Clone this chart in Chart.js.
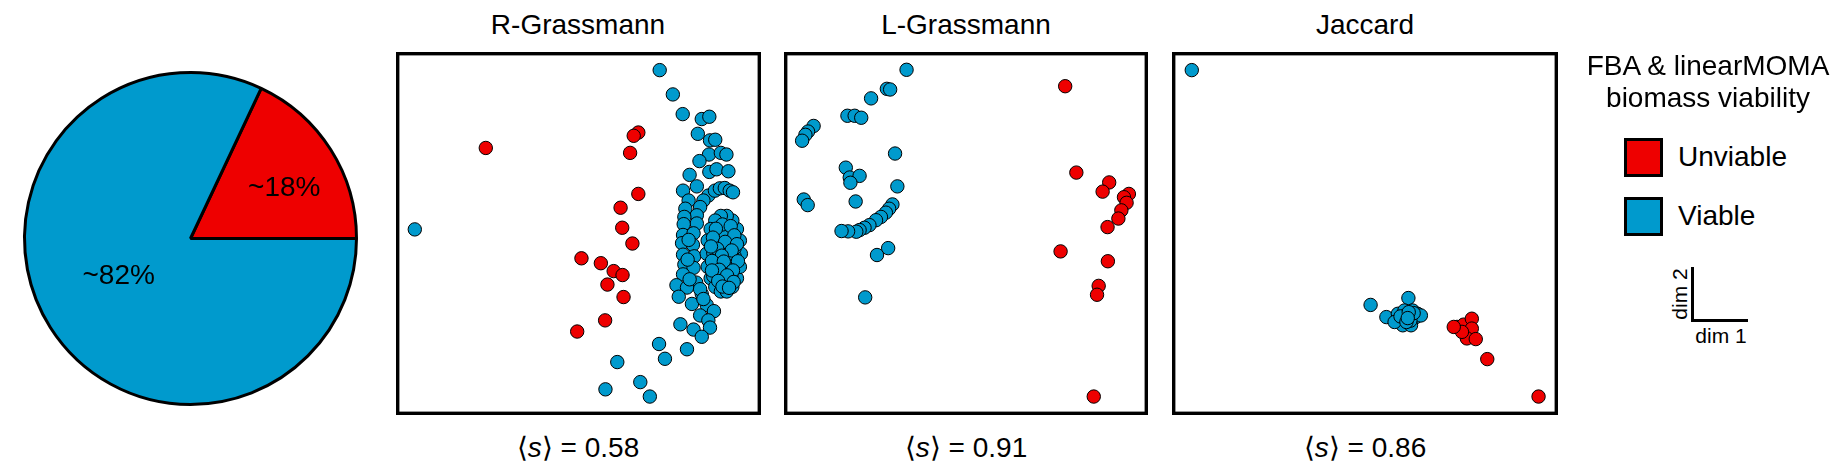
<!DOCTYPE html>
<html>
<head>
<meta charset="utf-8">
<script src="https://cdn.jsdelivr.net/npm/chart.js@4.4.1/dist/chart.umd.min.js"></script>
<style>
body { margin: 0; background: #fff; }
#wrap { position: relative; width: 1841px; height: 469px; font-family: "Liberation Sans", Arial, sans-serif; color: #000; overflow: hidden; }
canvas { position: absolute; }
.t { position: absolute; white-space: nowrap; font-size: 28px; line-height: 34px; height: 34px; }
.c { width: 300px; text-align: center; }
.sq { position: absolute; width: 39px; height: 39px; box-sizing: border-box; border: 3px solid #000; }
.ln { position: absolute; background: #000; }
.dim { position: absolute; white-space: nowrap; font-size: 21px; line-height: 24px; height: 24px; width: 80px; text-align: center; }
</style>
</head>
<body>
<div id="wrap">
  <canvas id="pie" width="343" height="343" style="left:19px;top:67px"></canvas>
  <canvas id="rg" width="377" height="375" style="left:390px;top:46px"></canvas>
  <canvas id="lg" width="376" height="375" style="left:778px;top:46px"></canvas>
  <canvas id="jc" width="398" height="375" style="left:1166px;top:46px"></canvas>

  <div class="t c" style="left:428px;top:8px">R-Grassmann</div>
  <div class="t c" style="left:816px;top:8px">L-Grassmann</div>
  <div class="t c" style="left:1215px;top:8px">Jaccard</div>

  <div class="t c" style="left:428px;top:431px">⟨<i>s</i>⟩ = 0.58</div>
  <div class="t c" style="left:816px;top:431px">⟨<i>s</i>⟩ = 0.91</div>
  <div class="t c" style="left:1215px;top:431px">⟨<i>s</i>⟩ = 0.86</div>

  <div class="t c" style="left:1558px;top:49px">FBA &amp; linearMOMA</div>
  <div class="t c" style="left:1558px;top:81px">biomass viability</div>
  <div class="sq" style="left:1624px;top:138px;background:#EE0000"></div>
  <div class="t" style="left:1678px;top:140px">Unviable</div>
  <div class="sq" style="left:1624px;top:197px;background:#009ACD"></div>
  <div class="t" style="left:1678px;top:199px">Viable</div>

  <div class="ln" style="left:1691px;top:267px;width:3px;height:55px"></div>
  <div class="ln" style="left:1691px;top:319px;width:57px;height:3px"></div>
  <div class="dim" style="left:1681px;top:324px">dim 1</div>
  <div class="dim" style="left:1640px;top:282px;transform:rotate(-90deg)">dim 2</div>
</div>
<script>
var red = "#EE0000"
var blue = "#009ACD"

// pie
var pieLabels = ["Unviable", "Viable"]
var pieValues = [18, 82]
var pieColors = [red, blue]
var pieLabelDist = [0.64, 0.49]

// R-Grassmann embedding
var rgUnviable = [[26.8, 80.8], [73.2, 85.5], [71.8, 84.5], [70.7, 79.3], [73.2, 66.8], [67.8, 62.6], [68.3, 56.5], [71.4, 51.7],
  [55.9, 47.2], [61.8, 45.7], [65.7, 43.3], [68.4, 42.1], [63.8, 39.2], [68.7, 35.4], [63.1, 28.3], [54.6, 24.9]]
var rgViable = [[5.2, 56.0], [79.7, 104.5], [83.7, 97.1], [86.7, 91.1], [92.5, 89.6], [94.8, 90.3], [91.3, 85.1], [95.0, 83.1],
  [96.6, 83.3], [94.7, 78.8], [98.3, 79.3], [100.0, 78.8], [91.8, 76.8], [94.8, 73.5], [97.0, 74.3], [100.6, 73.7],
  [88.8, 72.6], [91.0, 69.1], [86.8, 67.8], [94.5, 66.3], [96.5, 67.8], [98.0, 68.5], [99.5, 68.6], [101.0, 67.8],
  [102.0, 67.3], [93.0, 64.8], [88.5, 64.8], [92.0, 62.8], [87.5, 62.3], [91.0, 60.3], [87.2, 59.8], [91.0, 57.8],
  [87.0, 57.6], [86.8, 54.3], [90.0, 54.8], [86.5, 51.8], [89.8, 51.3], [86.8, 48.3], [90.2, 47.8], [87.2, 45.3],
  [90.0, 44.3], [86.8, 42.3], [90.8, 39.8], [84.8, 39.0], [88.0, 38.3], [85.5, 35.5], [92.5, 36.3], [89.5, 33.3],
  [94.0, 33.0], [96.2, 31.1], [92.0, 29.8], [94.5, 28.3], [86.0, 27.1], [90.0, 25.5], [95.0, 26.1], [92.5, 23.3],
  [79.5, 21.1], [88.0, 19.5], [81.3, 16.6], [66.8, 15.6], [73.8, 9.5], [63.2, 7.3], [76.7, 5.1],
  [88.5, 52.8], [88.2, 46.8], [88.8, 40.8], [92.0, 37.8], [93.0, 34.8],
  [104.4, 48.6], [104.1, 52.6], [103.2, 56.1], [101.8, 58.7], [100.1, 60.1], [98.3, 60.1], [96.6, 58.7], [95.2, 56.1],
  [94.3, 52.6], [94.0, 48.6], [94.3, 44.6], [95.2, 41.1], [96.6, 38.5], [98.3, 37.1], [100.1, 37.1], [101.8, 38.5],
  [103.2, 41.1], [104.1, 44.6], [97.5, 54.8], [100.5, 55.8], [101.0, 52.8], [98.0, 51.3], [96.0, 48.8], [100.0, 48.8],
  [102.5, 47.8], [97.0, 45.3], [100.5, 44.8], [98.5, 42.3], [101.5, 41.8], [96.0, 41.8], [99.5, 39.8], [99.0, 54.3],
  [102.5, 50.3], [98.8, 57.5], [101.3, 57.0], [96.8, 56.2], [102.4, 54.2], [95.9, 53.5], [99.6, 52.2], [103.2, 51.5],
  [97.2, 50.1], [95.3, 50.8], [101.6, 49.6], [98.6, 48.0], [103.5, 46.3], [95.6, 46.4], [99.2, 46.2], [102.0, 43.5],
  [97.8, 43.7], [95.6, 43.5], [100.2, 42.0], [97.5, 40.3], [102.2, 40.0], [98.8, 38.6], [100.8, 38.2]]

// L-Grassmann embedding
var lgUnviable = [[85.1, 99.6], [88.5, 73.3], [98.5, 70.3], [96.5, 67.5], [104.5, 66.8], [103.0, 65.8], [103.8, 64.1],
  [102.2, 61.8], [101.3, 59.3], [98.0, 56.7], [83.7, 49.3], [98.1, 46.3], [95.3, 38.8], [94.8, 36.1], [93.8, 5.1]]
var lgViable = [[36.8, 104.6], [30.8, 98.8], [31.8, 98.6], [26.0, 95.9], [18.8, 90.6], [21.0, 90.6], [23.0, 90.0],
  [8.5, 87.5], [6.8, 85.8], [6.0, 84.8], [5.0, 83.0], [33.3, 79.1], [18.3, 74.8], [19.5, 71.8], [22.5, 72.3],
  [19.7, 70.2], [34.0, 69.1], [5.5, 65.1], [6.7, 63.4], [21.3, 64.5], [32.5, 63.6], [31.5, 62.3], [30.5, 61.1],
  [29.0, 59.8], [27.5, 58.8], [25.5, 57.3], [24.0, 56.5], [22.5, 55.8], [21.5, 55.3], [19.0, 55.4], [17.0, 55.5],
  [31.2, 50.3], [27.8, 48.2], [24.2, 35.3]]

// Jaccard embedding
var jcUnviable = [[86.2, 26.3], [88.2, 27.0], [90.7, 28.8], [90.7, 25.8], [89.2, 22.8], [91.9, 22.6], [87.7, 24.8],
  [85.2, 26.3], [95.4, 16.5], [111.0, 5.1]]
var jcViable = [[5.5, 104.5], [59.9, 33.0], [71.4, 35.1], [64.7, 29.3], [68.2, 30.3], [70.2, 31.3], [72.7, 31.3],
  [74.2, 30.3], [68.7, 28.3], [73.7, 29.3], [75.2, 29.8], [69.7, 26.8], [72.2, 26.8], [67.2, 27.8], [70.5, 29.8],
  [72.0, 28.2], [69.0, 29.5], [73.0, 30.5], [70.8, 27.8], [71.5, 30.8], [71.2, 29.0]]

var yMax = 109.5

var pieText = {
  id: "pieText",
  afterDatasetsDraw: function(chart) {
    var ctx = chart.ctx
    var arcs = chart.getDatasetMeta(0).data
    ctx.save()
    ctx.font = '28px "Liberation Sans", Arial, sans-serif'
    ctx.fillStyle = "#000"
    ctx.textAlign = "center"
    ctx.textBaseline = "middle"
    arcs.forEach(function(arc, i) {
      var p = arc.getProps(["x", "y", "startAngle", "endAngle", "outerRadius"])
      var a = (p.startAngle + p.endAngle) / 2 + 0.077
      var r = p.outerRadius * pieLabelDist[i]
      ctx.fillText("~" + pieValues[i] + "%", p.x + Math.cos(a) * r, p.y + Math.sin(a) * r)
    })
    ctx.restore()
  }
}

var frame = {
  id: "frame",
  afterDraw: function(chart) {
    var a = chart.chartArea
    var ctx = chart.ctx
    ctx.save()
    ctx.lineWidth = 3.4
    ctx.strokeStyle = "#000"
    ctx.strokeRect(a.left, a.top, a.right - a.left, a.bottom - a.top)
    ctx.restore()
  }
}

function drawPie() {
  return new Chart(document.getElementById("pie"), {
    type: "pie",
    data: {
      labels: pieLabels,
      datasets: [{
        data: pieValues,
        backgroundColor: pieColors,
        borderColor: "#000",
        borderWidth: 3
      }]
    },
    options: {
      responsive: false,
      animation: false,
      events: [],
      rotation: 25.2,
      layout: { padding: 4 },
      plugins: { legend: { display: false }, tooltip: { enabled: false } }
    },
    plugins: [pieText]
  })
}

function drawScatter(id, unviable, viable, xMax) {
  return new Chart(document.getElementById(id), {
    type: "scatter",
    data: {
      datasets: [{
        label: "Viable",
        data: viable,
        backgroundColor: blue,
        borderColor: "#000",
        borderWidth: 1,
        pointRadius: 6.7
      }, {
        label: "Unviable",
        data: unviable,
        backgroundColor: red,
        borderColor: "#000",
        borderWidth: 1,
        pointRadius: 6.7
      }]
    },
    options: {
      responsive: false,
      animation: false,
      events: [],
      layout: { padding: 5 },
      plugins: { legend: { display: false }, tooltip: { enabled: false } },
      scales: {
        x: { type: "linear", min: 0, max: xMax, display: false },
        y: { type: "linear", min: 0, max: yMax, display: false }
      }
    },
    plugins: [frame]
  })
}

drawPie()
drawScatter("rg", rgUnviable, rgViable, 110)
drawScatter("lg", lgUnviable, lgViable, 109.8)
drawScatter("jc", jcUnviable, jcViable, 116.4)
</script>
</body>
</html>
